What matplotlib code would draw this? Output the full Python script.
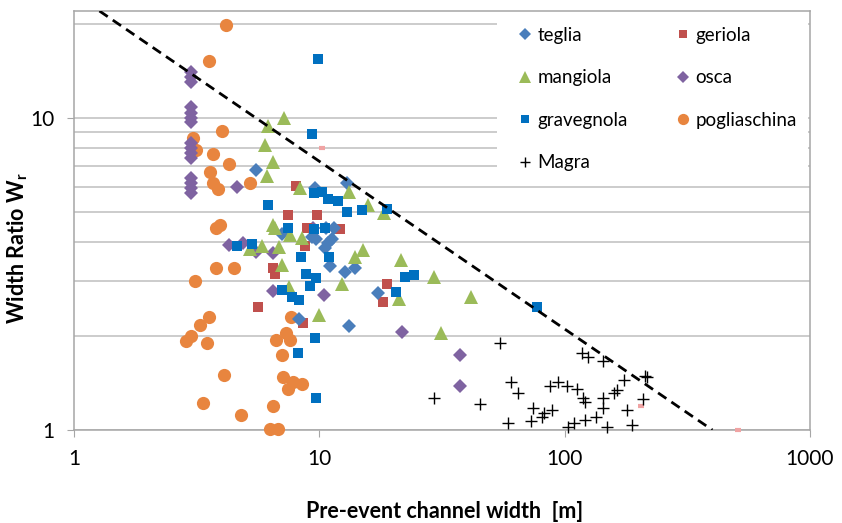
import matplotlib
matplotlib.use("Agg")
import matplotlib.pyplot as plt
from matplotlib.patches import Rectangle
from matplotlib.ticker import NullFormatter, NullLocator, FixedLocator

plt.rcParams['font.family'] = ['Lato', 'DejaVu Sans']

# ---- values: pre-event channel width [m] vs width ratio Wr
teglia_x = [5.5, 13.0, 9.6, 7.05, 9.3, 9.7, 10.6, 11.5, 11.3, 10.85, 10.55, 11.05,
            12.7, 14.0, 17.4, 8.3, 13.2]
teglia_y = [6.8, 6.2, 5.95, 4.25, 4.15, 4.1, 4.45, 4.45, 4.1, 3.97, 3.82, 3.35,
            3.2, 3.3, 2.75, 2.27, 2.15]

geriola_x = [8.0, 7.45, 9.8, 8.9, 12.1, 8.75, 6.5, 6.6, 5.6, 8.6, 18.9, 18.2]
geriola_y = [6.05, 4.9, 4.9, 4.45, 4.4, 3.9, 3.3, 3.15, 2.48, 2.2, 2.93, 2.57]

mangiola_x = [7.2, 6.2, 6.0, 6.5, 6.1, 8.35, 13.2, 15.8, 18.4, 6.5, 6.6, 7.6, 8.5,
              5.85, 5.2, 6.85, 7.05, 7.5, 14.0, 15.1, 12.4, 10.0, 21.5, 29.4, 21.1,
              41.5, 31.3]
mangiola_y = [10.0, 9.4, 8.2, 7.2, 6.5, 5.95, 5.78, 5.25, 4.95, 4.55, 4.45, 4.2, 4.12,
              3.9, 3.8, 3.85, 3.37, 2.87, 3.58, 3.77, 2.93, 2.33, 3.5, 3.09, 2.63,
              2.67, 2.04]

osca_x = [3.0] * 15 + [4.6, 4.3, 4.9, 5.5, 6.5, 6.5, 9.4, 10.4, 21.7, 37.5, 37.5]
osca_y = [14.0, 13.5, 13.0, 10.8, 10.4, 10.0, 9.67, 8.29, 7.99, 7.7, 7.42, 6.4, 6.17,
          5.95, 5.73, 6.0, 3.91, 3.97, 3.71, 3.7, 2.79, 4.43, 2.7, 2.06, 1.74, 1.38]

gravegnola_x = [9.9, 9.35, 6.2, 9.5, 10.3, 10.85, 11.9, 13.0, 14.9, 18.9, 7.45, 9.55,
                10.5, 4.6, 5.3, 8.4, 10.95, 8.8, 9.7, 9.15, 7.05, 7.75, 8.25, 9.6,
                8.2, 9.7, 22.4, 24.3, 20.5, 77.0]
gravegnola_y = [15.4, 8.9, 5.25, 5.75, 5.8, 5.5, 5.4, 5.0, 5.05, 5.1, 4.45, 4.4,
                4.45, 3.9, 3.95, 3.58, 3.58, 3.15, 3.06, 2.9, 2.8, 2.67, 2.6, 1.97,
                1.76, 1.27, 3.09, 3.13, 2.77, 2.48]

pogliaschina_x = [4.15, 3.55, 4.0, 3.05, 3.15, 3.7, 4.3, 3.6, 3.7, 3.85, 5.2, 3.8,
                  3.95, 3.8, 4.5, 3.1, 3.55, 3.25, 3.0, 2.85, 3.5, 4.1, 3.35, 4.8,
                  7.7, 7.3, 6.65, 7.6, 7.05, 7.1, 7.8, 8.5, 7.45, 6.5, 6.3, 6.8]
pogliaschina_y = [19.8, 15.2, 9.05, 8.65, 7.9, 7.65, 7.1, 6.7, 6.2, 5.9, 6.2, 4.45,
                  4.55, 3.3, 3.3, 3.0, 2.3, 2.17, 2.0, 1.93, 1.9, 1.5, 1.22, 1.12,
                  2.3, 2.05, 1.94, 1.94, 1.74, 1.48, 1.43, 1.4, 1.35, 1.19, 1.01, 1.01]

magra_x = [29.4, 45.2, 54.5, 60.5, 64.6, 59, 73, 74, 82, 81, 89, 87, 94, 102, 112,
           118, 125, 143, 119, 121, 143, 143, 159, 164, 175, 213, 217, 209, 180,
           103, 109, 121, 134, 149, 188]
magra_y = [1.27, 1.21, 1.90, 1.43, 1.31, 1.05, 1.07, 1.18, 1.13, 1.10, 1.16, 1.38,
           1.42, 1.38, 1.35, 1.76, 1.71, 1.66, 1.27, 1.23, 1.27, 1.18, 1.31, 1.34,
           1.45, 1.49, 1.48, 1.26, 1.16, 1.02, 1.05, 1.08, 1.10, 1.02, 1.04]

# stray marks of a hidden series
other_x = [10.3, 205, 509]
other_y = [8.0, 1.19, 1.0]

# upper envelope (dashed)
env_x = [1.27, 400]
env_y = [22, 1]

fig = plt.figure(figsize=(8.42, 5.23), dpi=100)
ax = fig.add_axes([74/842, 1-430/523, 736/842, 419/523])
ax.set_xscale("log"); ax.set_yscale("log")
ax.set_xlim(1, 1000); ax.set_ylim(1, 22)

GRID = "#BFBFBF"
ax.yaxis.set_major_locator(FixedLocator([1, 10]))
ax.yaxis.set_minor_locator(FixedLocator([2, 3, 4, 5, 6, 7, 8, 9, 20]))
ax.yaxis.set_minor_formatter(NullFormatter())
ax.set_yticklabels(["1", "10"])
ax.xaxis.set_major_locator(FixedLocator([1, 10, 100, 1000]))
ax.xaxis.set_minor_locator(NullLocator())
ax.set_xticklabels(["1", "10", "100", "1000"])
ax.grid(axis="y", which="both", color=GRID, lw=1.1)
ax.tick_params(which="major", length=5, color="#A6A6A6", labelsize=15, pad=9)
ax.tick_params(which="minor", length=0)
for s in ax.spines.values():
    s.set_color("#A6A6A6"); s.set_linewidth(1.1)
ax.set_axisbelow(True)

# white box behind the legend (hides the gridlines there)
ax.add_patch(Rectangle((0.5747, 0.60), 0.4226, 0.40, transform=ax.transAxes,
                       facecolor="white", edgecolor="none", zorder=1.5))

ax.plot(env_x, env_y, color="black", lw=2.0, dashes=(3.6, 2.2), zorder=4)

series = [("teglia", teglia_x, teglia_y, "D", "#4A7EBB", 7.5),
          ("mangiola", mangiola_x, mangiola_y, "^", "#9BBB59", 9.5),
          ("gravegnola", gravegnola_x, gravegnola_y, "s", "#0070C0", 6.5),
          ("Magra", magra_x, magra_y, "+", "black", 9),
          ("geriola", geriola_x, geriola_y, "s", "#C0504D", 7),
          ("osca", osca_x, osca_y, "D", "#7F63A1", 7.5),
          ("pogliaschina", pogliaschina_x, pogliaschina_y, "o", "#E8853F", 9.5)]
order = ["pogliaschina", "osca", "geriola", "teglia", "mangiola", "gravegnola", "Magra"]
handles = {}
for name, x, y, m, c, ms in series:
    h, = ax.plot(x, y, ls="none", marker=m, ms=ms, color=c, mew=1.0 if m == "+" else 0,
                 clip_on=False, label=name, zorder=3 + order.index(name) * 0.1)
    handles[name] = h
ax.plot(other_x, other_y, ls="none", marker="_", ms=5, mew=3, color="#F0A3A3",
        clip_on=False, zorder=3)

leg_names = ["teglia", "mangiola", "gravegnola", "Magra", "geriola", "osca", "pogliaschina"]
ax.legend([handles[n] for n in leg_names], leg_names, ncol=2, frameon=False,
          loc="upper left", bbox_to_anchor=(0.593, 0.98), borderaxespad=0,
          fontsize=13.5, handlelength=0.8, handletextpad=0.25, labelspacing=1.36,
          columnspacing=2.55, markerscale=0.85)

fig.text(445/842, 1-511/523, "Pre-event channel width  [m]", ha="center", va="center",
         fontsize=15.5, fontweight="bold")
fig.text(18/842, 1-248/523, r"Width Ratio W$_\mathregular{r}$", ha="center", va="center",
         rotation=90, fontsize=15.5, fontweight="bold")

fig.savefig("out.png", dpi=100)
print("wrote out.png")
